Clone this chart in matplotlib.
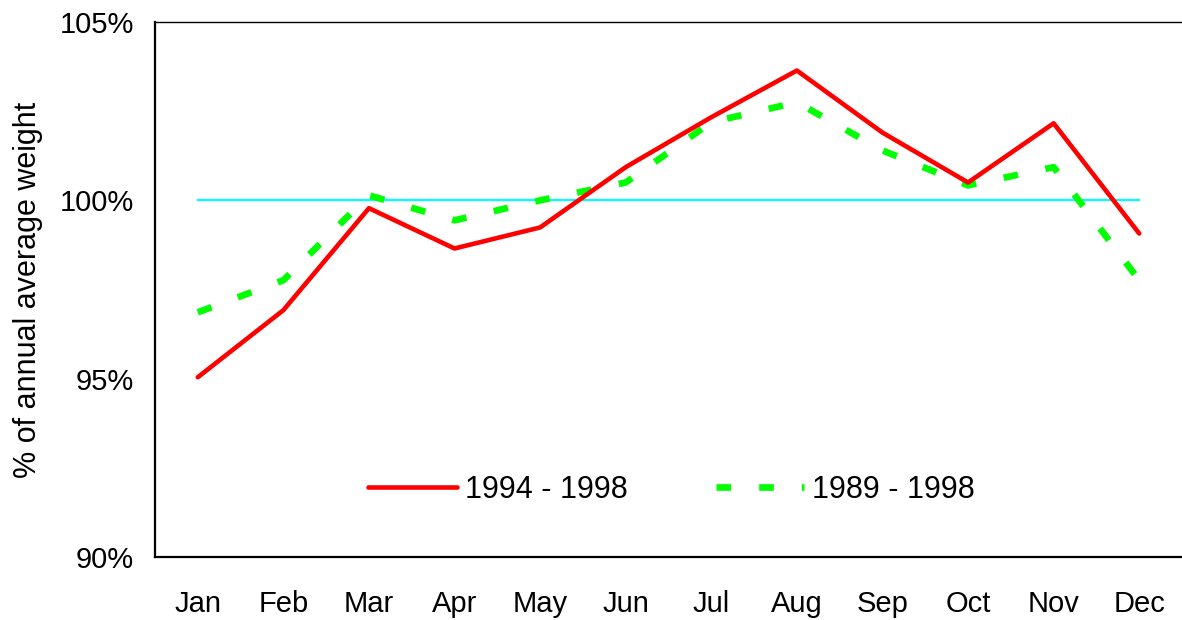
import matplotlib
matplotlib.use("Agg")
import matplotlib.pyplot as plt
from matplotlib.ticker import FuncFormatter

plt.rcParams['font.family'] = ['Liberation Sans', 'DejaVu Sans']

months = ["Jan", "Feb", "Mar", "Apr", "May", "Jun", "Jul", "Aug", "Sep", "Oct", "Nov", "Dec"]
# % of annual average weight
w_94_98 = [95.04, 96.92, 99.78, 98.65, 99.24, 100.93, 102.33, 103.64, 101.9, 100.5, 102.16, 99.07]
w_89_98 = [96.86, 97.76, 100.14, 99.44, 100.0, 100.5, 102.19, 102.75, 101.4, 100.42, 100.93, 97.76]
baseline = [100.0] * 12

fig = plt.figure(figsize=(11.82, 6.2), dpi=100)
ax = fig.add_axes([0.1311, 0.1016, 0.8689, 0.8629])

x = range(len(months))
ax.plot(x, baseline, color="#00ffff", lw=1.6, zorder=1)
ax.plot(x, w_94_98, color="#ff0000", lw=3.3, solid_capstyle="round", label="1994 - 1998", zorder=3)
ax.plot(x, w_89_98, color="#00ff00", lw=4.8, dashes=(2.2, 4.2), dash_capstyle="butt", label="1989 - 1998", zorder=2)

ax.set_xlim(-0.5, 11.5)
ax.set_ylim(90, 105)
ax.set_yticks([90, 95, 100, 105])
ax.yaxis.set_major_formatter(FuncFormatter(lambda v, p: f"{v:.0f}%"))
ax.set_xticks(list(x))
ax.set_xticklabels(months)
ax.tick_params(axis="both", length=0, labelsize=21)
ax.tick_params(axis="y", pad=15)
ax.tick_params(axis="x", pad=24)

ax.set_ylabel("% of annual average weight", fontsize=22, labelpad=12)

ax.spines["right"].set_visible(False)
ax.spines["left"].set_linewidth(1.6)
ax.spines["bottom"].set_linewidth(1.6)
ax.spines["top"].set_linewidth(1.0)

ax.legend(loc="center", bbox_to_anchor=(0.503, 0.125), ncol=2, frameon=False,
          fontsize=22, handlelength=2.9, handletextpad=0.25, columnspacing=2.9)

fig.savefig("out.png", dpi=100)
